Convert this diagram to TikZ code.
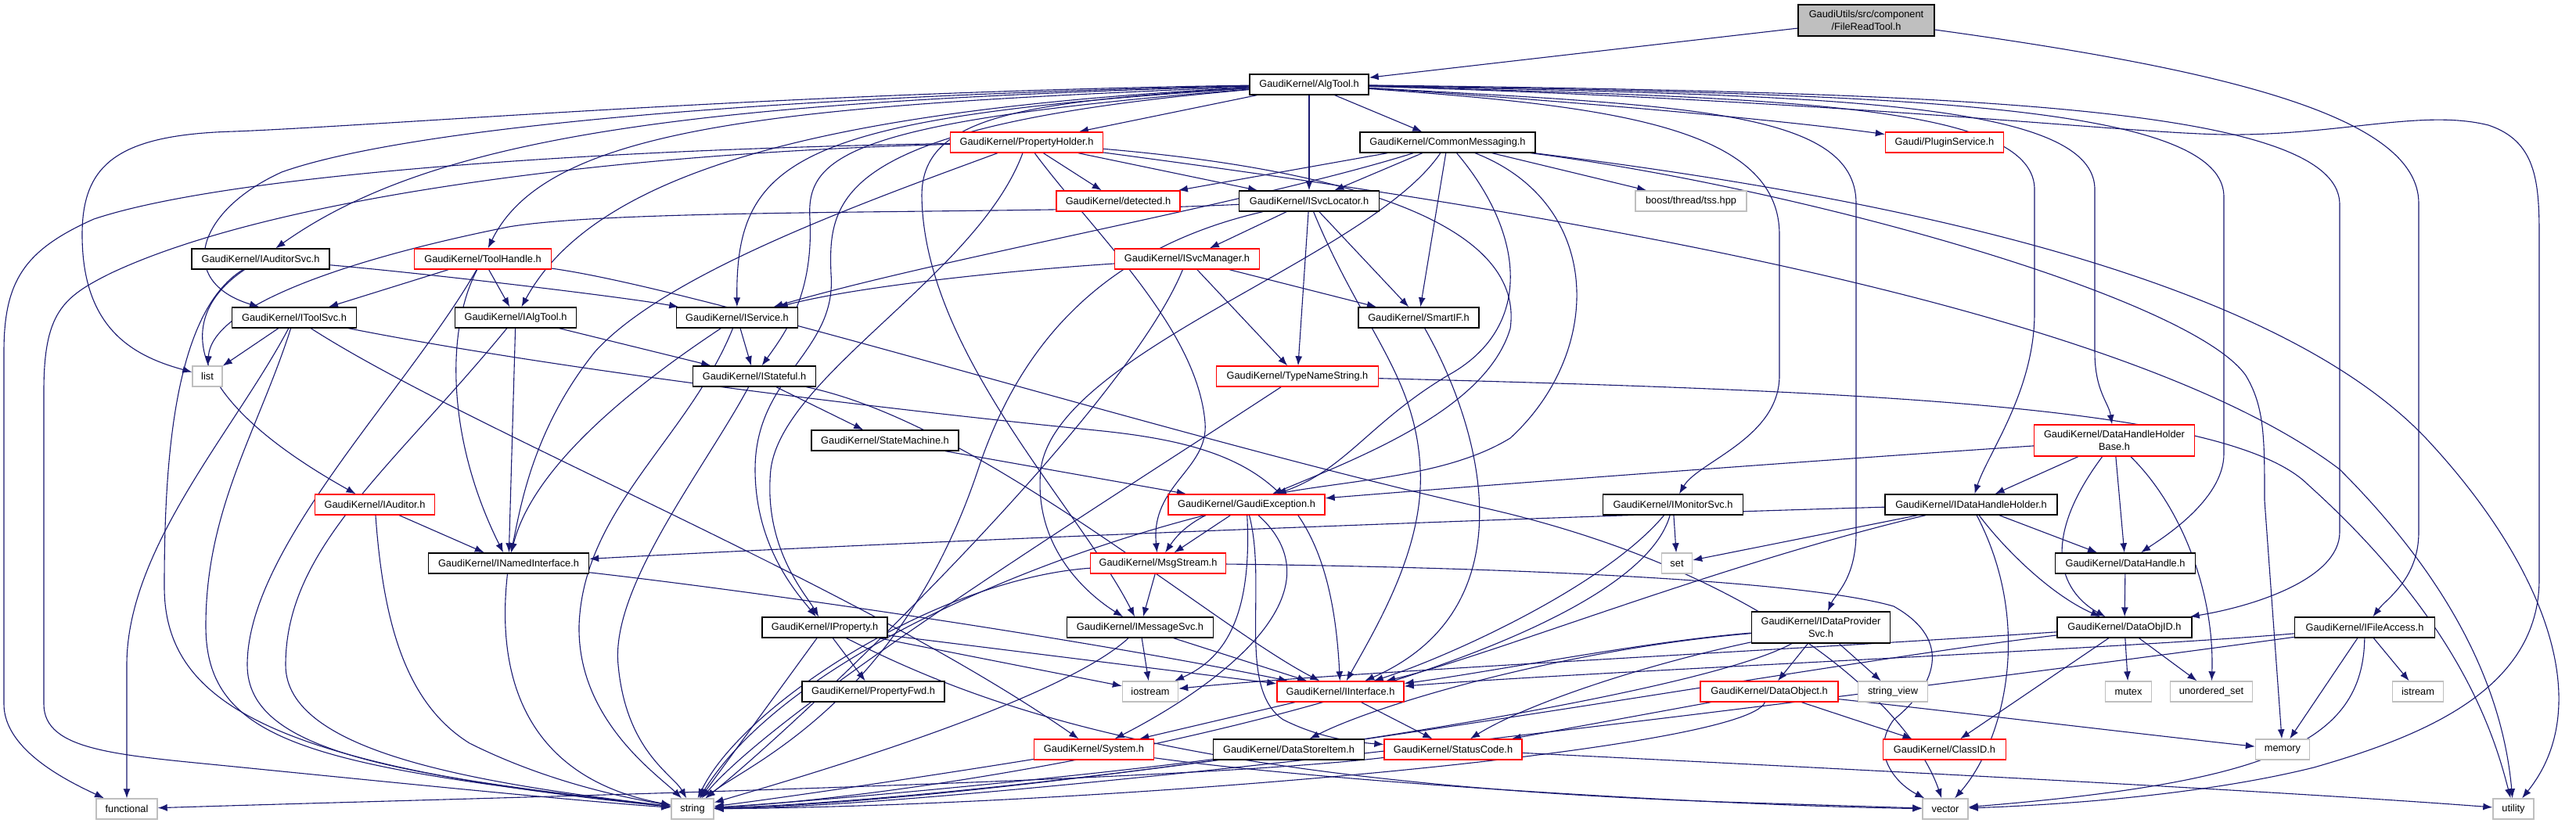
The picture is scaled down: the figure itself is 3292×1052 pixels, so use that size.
\documentclass[tikz,border=0pt]{standalone}
\usepackage{fontspec}
\setmainfont{Liberation Sans}
\usetikzlibrary{arrows.meta}
\definecolor{edgeblue}{RGB}{25,25,112}
\definecolor{nodered}{RGB}{255,0,0}
\definecolor{nodegray}{RGB}{191,191,191}
\pgfdeclarelayer{edgelayer}
\pgfsetlayers{edgelayer,main}
\begin{document}
\begin{tikzpicture}[x=0.5pt,y=-0.5pt,
 nbox/.style={draw=black, line width=0.7pt, fill=white, inner sep=0pt, minimum height=13pt, font=\fontsize{6.4pt}{7.6pt}\selectfont, align=center},
 redbox/.style={nbox, draw=nodered},
 graybox/.style={nbox, draw=nodegray},
 wd/.style={minimum width=#1*0.5pt},
 tall/.style={minimum height=20pt},
 ed/.style={draw=edgeblue, line width=0.55pt, -{Latex[length=6pt,width=4.5pt]}}]
\useasboundingbox (0,0) rectangle (3292,1052);
% nodes
\node[nbox,wd=174,tall,fill=nodegray] (root) at (2385,26) {GaudiUtils/src/component\\/FileReadTool.h};
\node[nbox,wd=152] (AT) at (1673,108) {GaudiKernel/AlgTool.h};
\node[redbox,wd=195] (PH) at (1312,182) {GaudiKernel/PropertyHolder.h};
\node[nbox,wd=224] (CM) at (1850,182) {GaudiKernel/CommonMessaging.h};
\node[redbox,wd=151] (PS) at (2485,182) {Gaudi/PluginService.h};
\node[redbox,wd=158] (DET) at (1429,257) {GaudiKernel/detected.h};
\node[nbox,wd=179] (SL) at (1673,257) {GaudiKernel/ISvcLocator.h};
\node[graybox,wd=142] (TSS) at (2161,257) {boost/thread/tss.hpp};
\node[nbox,wd=176] (IAS) at (333,331) {GaudiKernel/IAuditorSvc.h};
\node[redbox,wd=175] (TH) at (617,331) {GaudiKernel/ToolHandle.h};
\node[redbox,wd=185] (SM) at (1517,331) {GaudiKernel/ISvcManager.h};
\node[nbox,wd=159] (ITS) at (376,406) {GaudiKernel/IToolSvc.h};
\node[nbox,wd=155] (IAT) at (659,406) {GaudiKernel/IAlgTool.h};
\node[nbox,wd=155] (ISV) at (942,406) {GaudiKernel/IService.h};
\node[nbox,wd=154] (SIF) at (1813,406) {GaudiKernel/SmartIF.h};
\node[graybox,wd=38] (LIST) at (265,481) {list};
\node[nbox,wd=157] (IST) at (964,481) {GaudiKernel/IStateful.h};
\node[redbox,wd=207] (TNS) at (1658,481) {GaudiKernel/TypeNameString.h};
\node[nbox,wd=188] (STM) at (1131,563) {GaudiKernel/StateMachine.h};
\node[redbox,wd=205,tall] (DHHB) at (2702,563) {GaudiKernel/DataHandleHolder\\Base.h};
\node[redbox,wd=153] (IAU) at (479,645) {GaudiKernel/IAuditor.h};
\node[redbox,wd=200] (GEX) at (1593,645) {GaudiKernel/GaudiException.h};
\node[nbox,wd=179] (IMON) at (2138,645) {GaudiKernel/IMonitorSvc.h};
\node[nbox,wd=220] (IDHH) at (2519,645) {GaudiKernel/IDataHandleHolder.h};
\node[nbox,wd=205] (INI) at (650,720) {GaudiKernel/INamedInterface.h};
\node[redbox,wd=173] (MSG) at (1480,720) {GaudiKernel/MsgStream.h};
\node[graybox,wd=39] (SET) at (2143,720) {set};
\node[nbox,wd=179] (DH) at (2716,720) {GaudiKernel/DataHandle.h};
\node[nbox,wd=160] (IPR) at (1054,802) {GaudiKernel/IProperty.h};
\node[nbox,wd=187] (IMS) at (1457,802) {GaudiKernel/IMessageSvc.h};
\node[nbox,wd=177,tall] (IDPS) at (2327,802) {GaudiKernel/IDataProvider\\Svc.h};
\node[nbox,wd=172] (DOID) at (2715,802) {GaudiKernel/DataObjID.h};
\node[nbox,wd=179] (IFA) at (3022,802) {GaudiKernel/IFileAccess.h};
\node[nbox,wd=182] (PFWD) at (1116,884) {GaudiKernel/PropertyFwd.h};
\node[graybox,wd=71] (IOS) at (1470,884) {iostream};
\node[redbox,wd=162] (IIF) at (1713,884) {GaudiKernel/IInterface.h};
\node[redbox,wd=176] (DOBJ) at (2261,884) {GaudiKernel/DataObject.h};
\node[graybox,wd=89] (SV) at (2419,884) {string\_view};
\node[graybox,wd=59] (MTX) at (2720,884) {mutex};
\node[graybox,wd=105] (USET) at (2826,884) {unordered\_set};
\node[graybox,wd=65] (ISTR) at (3090,884) {istream};
\node[redbox,wd=153] (SYS) at (1398,958) {GaudiKernel/System.h};
\node[nbox,wd=193] (DSI) at (1647,958) {GaudiKernel/DataStoreItem.h};
\node[redbox,wd=176] (SC) at (1857,958) {GaudiKernel/StatusCode.h};
\node[redbox,wd=157] (CID) at (2485,958) {GaudiKernel/ClassID.h};
\node[graybox,wd=69] (MEM) at (2917,958) {memory};
\node[graybox,wd=78] (FUN) at (162,1034) {functional};
\node[graybox,wd=54] (STR) at (885,1034) {string};
\node[graybox,wd=58] (VEC) at (2486,1034) {vector};
\node[graybox,wd=52] (UTI) at (3212,1034) {utility};
\begin{pgfonlayer}{edgelayer}
% root
\draw[ed] (root) -- (AT);
\draw[ed] (root) .. controls (2850,90) and (3091,150) .. (3091,260) -- (3091,680) .. controls (3091,740) and (3050,765) .. (IFA);
% AlgTool
\draw[ed] (AT) -- (PH);
\draw[ed] (AT) -- (CM);
\draw[ed] (AT) -- (SL);
\draw[ed] (AT) .. controls (1950,125) and (2250,150) .. (PS);
\draw[ed] (AT) .. controls (1000,118) and (500,160) .. (300,168) .. controls (150,172) and (105,210) .. (105,300) .. controls (105,420) and (170,455) .. (LIST);
\draw[ed] (AT) .. controls (900,125) and (500,170) .. (360,220) .. controls (250,270) and (225,360) .. (ITS);
\draw[ed] (AT) .. controls (900,130) and (560,170) .. (IAS);
\draw[ed] (AT) .. controls (1000,135) and (700,160) .. (TH);
\draw[ed] (AT) .. controls (1050,140) and (760,220) .. (IAT);
\draw[ed] (AT) .. controls (1020,150) and (940,200) .. (ISV);
\draw[ed] (AT) .. controls (1080,155) and (1030,200) .. (1035,280) .. controls (1040,380) and (1000,430) .. (IST);
\draw[ed] (AT) .. controls (1070,160) and (1058,250) .. (1062,350) .. controls (1070,450) and (965,480) .. (965,600) .. controls (965,700) and (1020,760) .. (IPR);
\draw[ed] (AT) .. controls (1300,130) and (1178,150) .. (1178,250) .. controls (1180,450) and (1380,650) .. (IMS);
\draw[ed] (AT) .. controls (2050,135) and (2274,160) .. (2274,300) -- (2274,480) .. controls (2274,560) and (2170,590) .. (IMON);
\draw[ed] (AT) .. controls (2150,135) and (2372,140) .. (2372,260) -- (2372,680) .. controls (2372,740) and (2345,760) .. (IDPS);
\draw[ed] (AT) .. controls (2250,125) and (2595,130) .. (2600,240) -- (2600,400) .. controls (2600,500) and (2540,580) .. (IDHH);
\draw[ed] (AT) .. controls (2300,122) and (2672,125) .. (2677,240) -- (2677,450) .. controls (2677,500) and (2695,515) .. (DHHB);
\draw[ed] (AT) .. controls (2400,120) and (2838,130) .. (2842,250) -- (2842,580) .. controls (2842,640) and (2760,690) .. (DH);
\draw[ed] (AT) .. controls (2500,118) and (2986,135) .. (2990,260) -- (2990,680) .. controls (2990,740) and (2880,775) .. (DOID);
\draw[ed] (AT) .. controls (2400,130) and (2750,175) .. (2866,172) .. controls (3000,170) and (3100,140) .. (3180,160) .. controls (3240,180) and (3245,230) .. (3245,300) -- (3245,740) .. controls (3245,880) and (3100,940) .. (2957,981) .. controls (2800,1020) and (2600,1030) .. (VEC);
% PropertyHolder
\draw[ed] (PH) -- (DET);
\draw[ed] (PH) -- (SL);
\draw[ed] (PH) .. controls (800,190) and (300,220) .. (120,280) .. controls (30,320) and (5,360) .. (5,450) -- (5,900) .. controls (5,960) and (90,1000) .. (FUN);
\draw[ed] (PH) .. controls (800,195) and (350,250) .. (140,350) .. controls (80,380) and (56,400) .. (56,500) -- (56,900) .. controls (56,960) and (150,965) .. (300,980) .. controls (500,1000) and (750,1025) .. (STR);
\draw[ed] (PH) .. controls (1250,350) and (1000,480) .. (985,600) .. controls (975,700) and (1030,760) .. (IPR);
\draw[ed] (PH) .. controls (1400,300) and (1530,420) .. (1540,540) .. controls (1545,600) and (1470,620) .. (MSG);
\draw[ed] (PH) .. controls (1100,260) and (850,350) .. (760,450) .. controls (680,550) and (665,650) .. (INI);
\draw[ed] (PH) .. controls (1700,215) and (1950,280) .. (1930,420) .. controls (1900,520) and (1750,580) .. (GEX);
\draw[ed] (PH) .. controls (1900,260) and (2700,380) .. (2990,600) .. controls (3150,760) and (3200,900) .. (UTI);
% CommonMessaging
\draw[ed] (CM) -- (DET);
\draw[ed] (CM) -- (SL);
\draw[ed] (CM) -- (SIF);
\draw[ed] (CM) -- (TSS);
\draw[ed] (CM) .. controls (1600,260) and (1200,330) .. (ISV);
\draw[ed] (CM) .. controls (1950,300) and (1960,420) .. (1850,480) .. controls (1750,540) and (1720,600) .. (GEX);
\draw[ed] (CM) .. controls (2050,260) and (2050,450) .. (1930,560) .. controls (1800,640) and (1560,600) .. (MSG);
\draw[ed] (CM) .. controls (1750,330) and (1350,450) .. (1330,600) .. controls (1320,700) and (1390,760) .. (IMS);
\draw[ed] (CM) .. controls (2400,250) and (2900,350) .. (3100,560) .. controls (3250,720) and (3320,900) .. (UTI);
\draw[ed] (CM) .. controls (2300,240) and (2800,380) .. (2870,480) .. controls (2894,520) and (2894,560) .. (2894,640) -- (MEM);
% ISvcLocator
\draw[ed] (SL) -- (SM);
\draw[ed] (SL) -- (SIF);
\draw[ed] (SL) -- (TNS);
\draw[ed] (SL) .. controls (1300,275) and (800,265) .. (650,290) .. controls (450,330) and (270,390) .. (LIST);
\draw[ed] (SL) .. controls (1740,420) and (1810,480) .. (1815,600) .. controls (1820,700) and (1760,800) .. (IIF);
\draw[ed] (SL) .. controls (1400,320) and (1300,450) .. (1250,600) .. controls (1150,900) and (950,980) .. (STR);
% ISvcManager
\draw[ed] (SM) .. controls (1300,345) and (1100,365) .. (ISV);
\draw[ed] (SM) -- (SIF);
\draw[ed] (SM) -- (TNS);
\draw[ed] (SM) .. controls (1440,520) and (1050,900) .. (STR);
% SmartIF, TypeNameString
\draw[ed] (SIF) .. controls (1900,560) and (1950,780) .. (IIF);
\draw[ed] (TNS) .. controls (1400,650) and (1000,900) .. (STR);
\draw[ed] (TNS) .. controls (2400,500) and (2850,520) .. (2950,620) .. controls (3150,800) and (3190,950) .. (UTI);
% IToolSvc
\draw[ed] (ITS) -- (LIST);
\draw[ed] (ITS) .. controls (300,550) and (162,700) .. (162,850) -- (FUN);
\draw[ed] (ITS) .. controls (330,550) and (263,650) .. (263,800) .. controls (263,950) and (400,980) .. (STR);
\draw[ed] (ITS) .. controls (600,550) and (1100,750) .. (SYS);
\draw[ed] (ITS) .. controls (700,470) and (1100,520) .. (1400,550) .. controls (1600,570) and (1700,620) .. (IIF);
% IAuditorSvc
\draw[ed] (IAS) .. controls (550,350) and (800,380) .. (ISV);
\draw[ed] (IAS) .. controls (230,400) and (220,500) .. (IAU);
\draw[ed] (IAS) .. controls (220,400) and (210,600) .. (210,750) .. controls (210,900) and (350,980) .. (STR);
% IAlgTool, IService, IStateful
\draw[ed] (IAT) -- (IST);
\draw[ed] (IAT) -- (INI);
\draw[ed] (IAT) .. controls (500,600) and (365,700) .. (365,850) .. controls (365,960) and (600,1000) .. (STR);
\draw[ed] (ISV) -- (IST);
\draw[ed] (ISV) .. controls (800,500) and (680,600) .. (INI);
\draw[ed] (ISV) .. controls (880,560) and (745,650) .. (740,800) .. controls (738,920) and (840,990) .. (STR);
\draw[ed] (IST) -- (STM);
\draw[ed] (IST) .. controls (900,600) and (780,750) .. (790,850) .. controls (800,960) and (860,990) .. (STR);
\draw[ed] (IST) .. controls (1250,540) and (1550,800) .. (IIF);
\draw[ed] (STM) -- (GEX);
% IAuditor, ToolHandle
\draw[ed] (IAU) -- (INI);
\draw[ed] (IAU) .. controls (490,800) and (520,900) .. (600,950) .. controls (700,1000) and (800,1020) .. (STR);
\draw[ed] (TH) -- (ITS);
\draw[ed] (TH) -- (IAT);
\draw[ed] (TH) .. controls (570,420) and (570,560) .. (INI);
\draw[ed] (TH) .. controls (520,500) and (316,700) .. (316,850) .. controls (316,960) and (500,990) .. (STR);
\draw[ed] (TH) .. controls (900,370) and (1500,560) .. (1900,650) .. controls (2250,730) and (2440,900) .. (VEC);
% INamedInterface
\draw[ed] (INI) .. controls (1000,760) and (1400,820) .. (IIF);
\draw[ed] (INI) .. controls (630,900) and (700,1000) .. (STR);
% IDataHandleHolder, DataHandleHolderBase, DataHandle
\draw[ed] (IDHH) .. controls (2000,660) and (1200,690) .. (INI);
\draw[ed] (IDHH) -- (SET);
\draw[ed] (IDHH) -- (DH);
\draw[ed] (IDHH) .. controls (2560,700) and (2620,760) .. (DOID);
\draw[ed] (IDHH) .. controls (2600,800) and (2560,950) .. (VEC);
\draw[ed] (IDHH) .. controls (2200,720) and (1900,840) .. (IIF);
\draw[ed] (DHHB) -- (IDHH);
\draw[ed] (DHHB) .. controls (2300,590) and (1900,620) .. (GEX);
\draw[ed] (DHHB) -- (DH);
\draw[ed] (DHHB) .. controls (2600,700) and (2640,760) .. (DOID);
\draw[ed] (DHHB) .. controls (2790,650) and (2830,760) .. (USET);
\draw[ed] (DH) -- (DOID);
% IMonitorSvc
\draw[ed] (IMON) -- (SET);
\draw[ed] (IMON) .. controls (2050,750) and (1850,840) .. (IIF);
\draw[ed] (IMON) .. controls (2080,850) and (1300,1010) .. (STR);
% IDataProviderSvc
\draw[ed] (IDPS) -- (DOBJ);
\draw[ed] (IDPS) -- (SV);
\draw[ed] (IDPS) .. controls (2100,820) and (1900,860) .. (IIF);
\draw[ed] (IDPS) .. controls (2100,850) and (1950,900) .. (SC);
\draw[ed] (IDPS) .. controls (2000,830) and (1760,900) .. (DSI);
\draw[ed] (IDPS) .. controls (2150,900) and (1300,1020) .. (STR);
% DataObjID
\draw[ed] (DOID) -- (CID);
\draw[ed] (DOID) -- (MTX);
\draw[ed] (DOID) -- (USET);
\draw[ed] (DOID) .. controls (2300,830) and (1700,860) .. (IOS);
\draw[ed] (DOID) .. controls (2300,850) and (1400,1020) .. (STR);
% IFileAccess
\draw[ed] (IFA) -- (ISTR);
\draw[ed] (IFA) -- (MEM);
\draw[ed] (IFA) .. controls (3020,950) and (2900,1000) .. (VEC);
\draw[ed] (IFA) .. controls (2700,830) and (2000,860) .. (IIF);
\draw[ed] (IFA) .. controls (2600,860) and (1300,1030) .. (STR);
% DataObject
\draw[ed] (DOBJ) -- (CID);
\draw[ed] (DOBJ) .. controls (2500,910) and (2750,940) .. (MEM);
\draw[ed] (DOBJ) -- (SC);
\draw[ed] (DOBJ) .. controls (2230,960) and (1400,1030) .. (STR);
% IMessageSvc, MsgStream
\draw[ed] (IMS) -- (IOS);
\draw[ed] (IMS) -- (IIF);
\draw[ed] (IMS) .. controls (1350,900) and (1000,1000) .. (STR);
\draw[ed] (MSG) -- (IMS);
\draw[ed] (MSG) .. controls (1200,740) and (950,900) .. (STR);
\draw[ed] (MSG) .. controls (1900,725) and (2300,740) .. (2420,775) .. controls (2500,820) and (2470,880) .. (2420,920) .. controls (2390,960) and (2420,1000) .. (VEC);
% IProperty
\draw[ed] (IPR) -- (PFWD);
\draw[ed] (IPR) -- (IOS);
\draw[ed] (IPR) -- (IIF);
\draw[ed] (IPR) -- (STR);
\draw[ed] (IPR) .. controls (1250,900) and (1500,1000) .. (2200,1025) -- (VEC);
% GaudiException
\draw[ed] (GEX) -- (MSG);
\draw[ed] (GEX) .. controls (1600,780) and (1570,840) .. (IOS);
\draw[ed] (GEX) .. controls (1620,750) and (1580,880) .. (1640,920) .. controls (1680,940) and (1720,948) .. (SC);
\draw[ed] (GEX) .. controls (1300,720) and (1000,850) .. (STR);
\draw[ed] (GEX) .. controls (1720,760) and (1550,880) .. (SYS);
% IInterface, System, StatusCode, DataStoreItem
\draw[ed] (IIF) -- (SYS);
\draw[ed] (IIF) -- (SC);
\draw[ed] (SYS) .. controls (1200,990) and (1000,1020) .. (STR);
\draw[ed] (SYS) .. controls (1700,1000) and (2200,1030) .. (VEC);
\draw[ed] (SC) .. controls (1500,1000) and (600,1020) .. (FUN);
\draw[ed] (SC) .. controls (2300,980) and (2900,1010) .. (UTI);
\draw[ed] (DSI) .. controls (1400,990) and (1100,1020) .. (STR);
\end{pgfonlayer}
\end{tikzpicture}
\end{document}
